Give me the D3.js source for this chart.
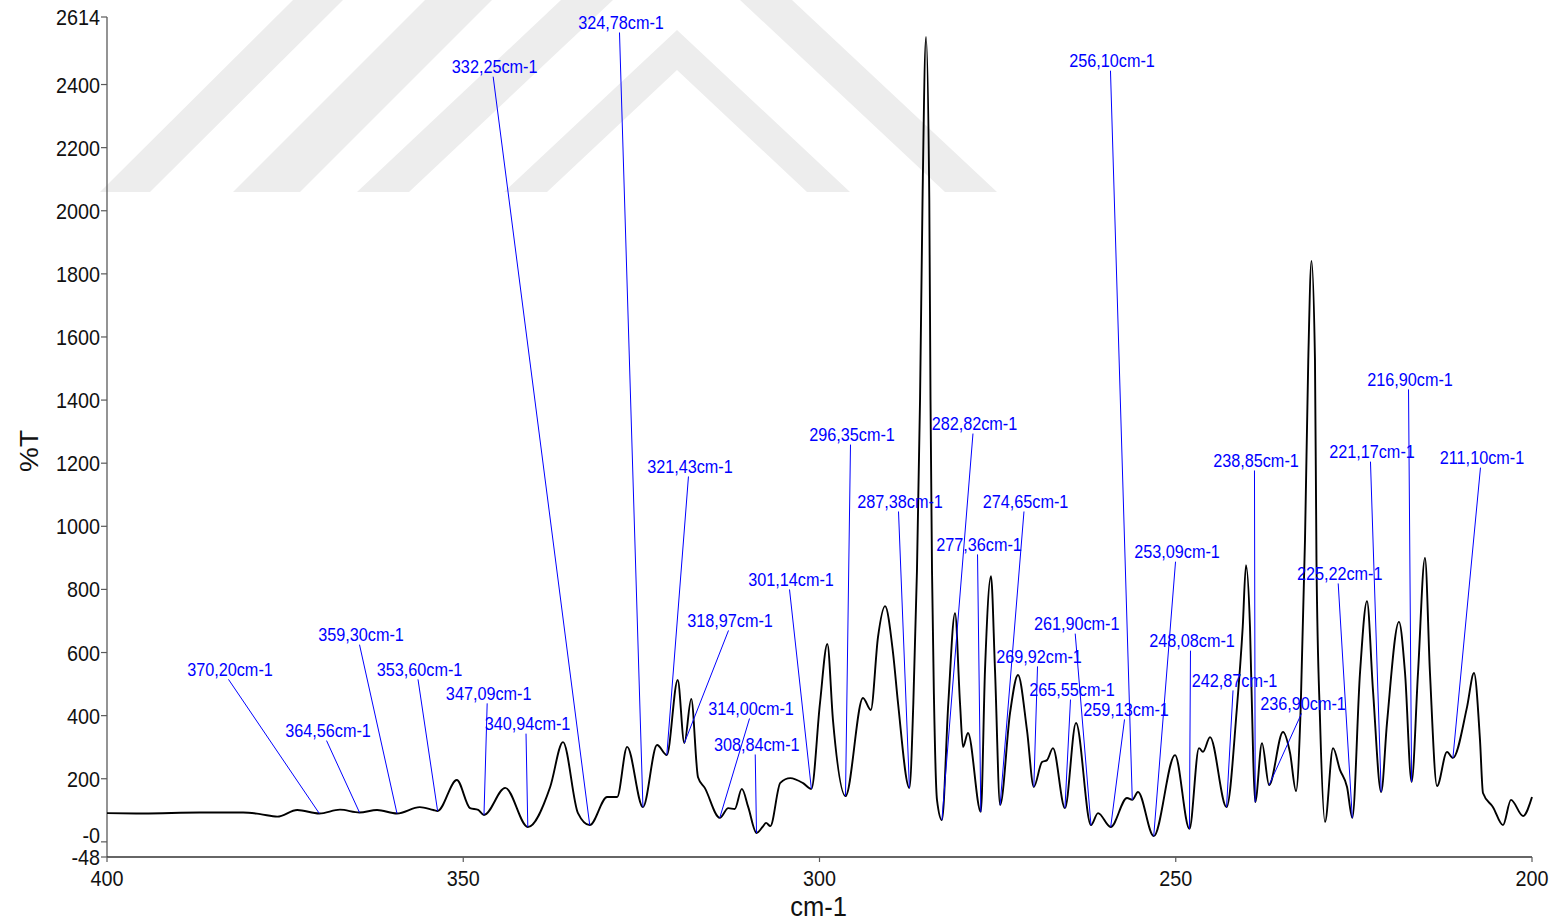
<!DOCTYPE html>
<html>
<head>
<meta charset="utf-8">
<script src="https://cdn.jsdelivr.net/npm/d3@7"></script>
<style>
  body { margin: 0; background: #fff; }
  svg { display: block; }
  text { font-family: "Liberation Sans", Arial, sans-serif; }
</style>
</head>
<body>
<svg id="chart" width="1555" height="923"></svg>
<script>
// Far-IR spectrum, 400 -> 200 cm-1
const wavenumber = [
  400, 394.9, 387.0, 380.9, 378.5, 376.1, 373.3, 370.20, 367.3, 364.56,
  362.1, 359.30, 356.1, 354.2, 353.60, 350.9, 349.05, 347.9, 347.09, 344.1,
  340.94, 337.8, 336.0, 333.9, 332.25, 329.8, 328.4, 327.0, 324.78, 322.8,
  321.43, 319.9, 318.97, 318.0, 317.05, 316.1, 314.00, 312.8, 311.9, 310.9,
  310.0, 308.84, 307.9, 307.5, 306.9, 305.5, 304.1, 302.3, 301.14, 299.93,
  298.9, 298.11, 296.35, 293.9, 292.8, 291.79, 290.8, 289.68, 288.98, 287.38,
  286.83, 286.32, 285.89, 285.54, 285.05, 284.59, 284.42, 284.21, 283.93, 283.51,
  282.82, 281.92, 280.98, 280.28, 279.86, 279.16, 277.36, 276.77, 275.93, 275.37,
  274.65, 273.26, 272.14, 270.88, 269.92, 268.77, 268.07, 267.23, 265.55, 264.0,
  261.90, 260.91, 259.13, 256.84, 256.10, 255.3, 253.09, 250.1, 248.08, 246.74,
  246.18, 245.19, 242.87, 241.44, 240.6, 240.14, 239.58, 239.12, 238.85, 237.9,
  236.90, 234.95, 233.96, 233.12, 232.46, 231.86, 231.4, 230.95, 230.46, 230.25,
  229.75, 229.05, 227.93, 226.95, 225.96, 225.22, 224.14, 223.16, 222.32, 221.17,
  220.35, 218.67, 217.82, 216.90, 216.0, 215.02, 214.32, 213.33, 211.93, 211.10,
  209.12, 208.14, 207.3, 206.88, 205.47, 204.07, 202.95, 201.26, 200
];
const transmittance = [
  91, 90, 93, 93, 88, 80, 101, 90, 102, 93,
  101, 90, 110, 101, 98, 196, 107, 101, 85, 171,
  47, 174, 316, 91, 53, 142, 142, 301, 110, 307,
  275, 513, 313, 453, 205, 171, 76, 107, 104, 168,
  110, 28, 50, 60, 50, 187, 202, 186, 168, 440,
  627, 386, 145, 456, 418, 649, 747, 599, 440, 171,
  440, 861, 1400, 2034, 2551, 2034, 1400, 861, 450, 133,
  69, 440, 725, 440, 301, 345, 95, 545, 842, 545,
  117, 408, 529, 354, 174, 253, 259, 297, 107, 377,
  53, 91, 47, 139, 133, 158, 18, 275, 41, 297,
  285, 332, 110, 418, 681, 877, 681, 259, 126, 313,
  180, 348, 282, 161, 427, 957, 1527, 1841, 1527, 893,
  386, 63, 297, 228, 174, 76, 535, 763, 481, 158,
  377, 697, 535, 190, 535, 900, 535, 177, 285, 266,
  427, 535, 323, 155, 110, 53, 133, 82, 142
];

// Picked bands (cm-1)
const peakLabels = [
  370.20, 364.56, 359.30, 353.60, 347.09, 340.94, 332.25, 324.78, 321.43, 318.97,
  314.00, 308.84, 301.14, 296.35, 287.38, 282.82, 277.36, 274.65, 269.92, 265.55,
  261.90, 259.13, 256.10, 253.09, 248.08, 242.87, 238.85, 236.90, 225.22, 221.17,
  216.90, 211.10
];
// Where each band label sits, in axis units [cm-1, %T]
const labelSpots = [
  [382.74, 526], [368.98, 332], [364.35, 636], [356.14, 526], [346.43, 450],
  [340.98, 354], [345.59, 2436], [327.86, 2576], [318.18, 1169], [312.56, 681],
  [309.61, 402], [308.81, 288], [304.00, 811], [295.44, 1270], [288.70, 1058],
  [278.25, 1305], [277.61, 922], [271.09, 1058], [269.19, 567], [264.56, 462],
  [263.90, 671], [256.98, 399], [258.95, 2455], [249.82, 899], [247.72, 617],
  [241.75, 491], [238.74, 1188], [232.14, 418], [226.99, 830], [222.46, 1216],
  [217.12, 1445], [207.02, 1197]
];

const yTicks = [2614, 2400, 2200, 2000, 1800, 1600, 1400, 1200, 1000, 800, 600, 400, 200, 0, -48];
const yTickLabels = ["2614", "2400", "2200", "2000", "1800", "1600", "1400", "1200", "1000", "800", "600", "400", "200", "-0", "-48"];
const xTicks = [400, 350, 300, 250, 200];
const xTickLabels = ["400", "350", "300", "250", "200"];

const svg = d3.select("#chart");
const x = d3.scaleLinear().domain([400, 200]).range([107, 1532]);
const y = d3.scaleLinear().domain([-48, 2614]).range([857, 17]);

const SQ = 0.887; // glyph width factor of the plotting software's font

// Pale page emblem behind the plot (diagonal stripes and nested chevrons)
const emblem = svg.append("g").attr("fill", "#ededed");
const emblemShapes = [
  [[100, 192], [150, 192], [343, 0], [293, 0]],
  [[233, 192], [300, 192], [492, 0], [425, 0]],
  [[357, 192], [409, 192], [613, 0], [561, 0]],
  [[740, 0], [792, 0], [997, 192], [945, 192]],
  [[504, 192], [677, 30], [850, 192], [807, 192], [677, 70], [547, 192]]
];
emblem.selectAll("polygon").data(emblemShapes).join("polygon")
  .attr("points", d => d.map(p => p.join(",")).join(" "));

// Axes
const yAxis = svg.append("g");
yAxis.append("line")
  .attr("x1", x(400)).attr("x2", x(400))
  .attr("y1", y(2614)).attr("y2", y(-48))
  .attr("stroke", "#5a5a5a").attr("stroke-width", 1.3);
yAxis.selectAll("line.tick").data(yTicks).join("line")
  .attr("class", "tick")
  .attr("x1", x(400) - 6).attr("x2", x(400))
  .attr("y1", d => y(d)).attr("y2", d => y(d))
  .attr("stroke", "#5a5a5a").attr("stroke-width", 1.2);
yAxis.selectAll("text").data(yTicks).join("text")
  .attr("transform", (d, i) => `translate(${x(400) - 7},${y(d) + 8 - (yTickLabels[i] === "-0" ? 7 : 0)}) scale(${SQ},1)`)
  .attr("text-anchor", "end")
  .attr("font-size", 22.3)
  .attr("fill", "#111")
  .text((d, i) => yTickLabels[i]);

const xAxis = svg.append("g");
xAxis.append("line")
  .attr("x1", x(400)).attr("x2", x(200))
  .attr("y1", y(-48)).attr("y2", y(-48))
  .attr("stroke", "#333").attr("stroke-width", 1.3);
xAxis.selectAll("line.tick").data(xTicks).join("line")
  .attr("class", "tick")
  .attr("x1", d => x(d)).attr("x2", d => x(d))
  .attr("y1", y(-48)).attr("y2", y(-48) + 5)
  .attr("stroke", "#5a5a5a").attr("stroke-width", 1.2);
xAxis.selectAll("text").data(xTicks).join("text")
  .attr("transform", d => `translate(${x(d)},${y(-48) + 29}) scale(${SQ},1)`)
  .attr("text-anchor", "middle")
  .attr("font-size", 22.3)
  .attr("fill", "#111")
  .text((d, i) => xTickLabels[i]);

// Axis titles
svg.append("text")
  .attr("transform", `translate(${(x(400) + x(200)) / 2 - 1},916) scale(0.945,1)`)
  .attr("text-anchor", "middle")
  .attr("font-size", 27)
  .attr("fill", "#111")
  .text("cm-1");
svg.append("text")
  .attr("transform", "translate(38,451) rotate(-90) scale(1,0.9)")
  .attr("text-anchor", "middle")
  .attr("font-size", 28)
  .attr("fill", "#111")
  .text("%T");

// Spectrum trace
const spectrum = wavenumber.map((w, i) => ({ w, t: transmittance[i] }));
const line = d3.line()
  .x(d => x(d.w))
  .y(d => y(d.t))
  .curve(d3.curveMonotoneX);
svg.append("path")
  .datum(spectrum)
  .attr("d", line)
  .attr("fill", "none")
  .attr("stroke", "#000")
  .attr("stroke-width", 1.9)
  .attr("stroke-linejoin", "round");

// Band labels with leader lines
const tAt = new Map(spectrum.map(d => [d.w, d.t]));
const fmt = v => v.toFixed(2).replace(".", ",") + "cm-1";
const labels = svg.append("g");
labels.selectAll("line").data(peakLabels).join("line")
  .attr("x1", (d, i) => x(labelSpots[i][0]) - 1.5)
  .attr("y1", (d, i) => y(labelSpots[i][1]) + 3.5)
  .attr("x2", d => x(d))
  .attr("y2", d => y(tAt.get(d)))
  .attr("stroke", "#0000ff")
  .attr("stroke-width", 1);
labels.selectAll("text").data(peakLabels).join("text")
  .attr("transform", (d, i) => `translate(${x(labelSpots[i][0])},${y(labelSpots[i][1])}) scale(${SQ},1)`)
  .attr("text-anchor", "middle")
  .attr("font-size", 18.3)
  .attr("fill", "#0000ff")
  .text(d => fmt(d));
</script>
</body>
</html>
